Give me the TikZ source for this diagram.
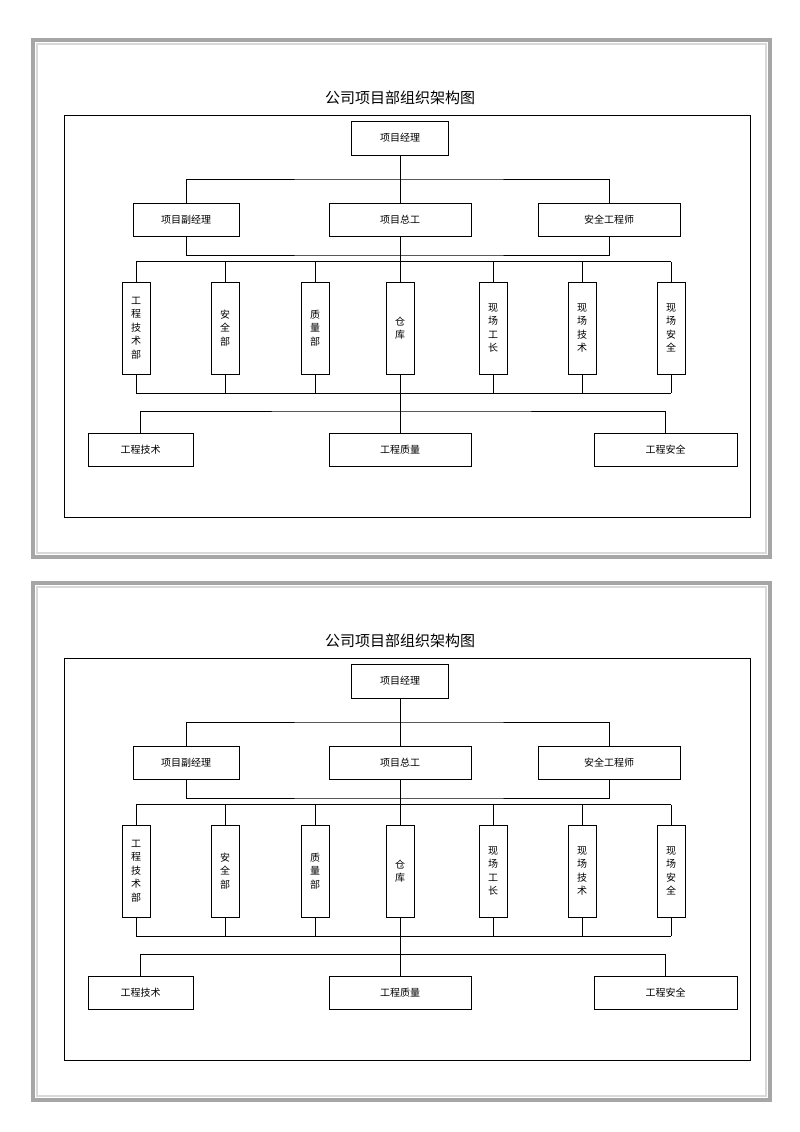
\documentclass[tikz,border=0pt]{standalone}
\usepackage{fontspec}
\setmainfont{Noto Sans CJK SC}
\usetikzlibrary{calc}
\begin{document}
\begin{tikzpicture}[x=1pt,y=-1pt,
  bx/.style={draw,line width=0.8pt,inner sep=0,font=\fontsize{10}{12}\selectfont},
  vb/.style={bx,minimum width=28pt,minimum height=92pt,align=center,font=\fontsize{10}{13.5}\selectfont},
  ln/.style={line width=0.6pt}]
\fill[white] (0,0) rectangle (800,1132);
\useasboundingbox (0,0) rectangle (800,1132);
\foreach \dy/\p in {0/a,543/b}{
\begin{scope}[yshift=-\dy pt]
\draw[gray!70,line width=4pt] (33,40) rectangle (770,557);
\draw[gray!30,line width=1.5pt] (37,44) rectangle (766,553);
\node[font=\fontsize{15}{17}\selectfont] (\p t) at (400,98) {公司项目部组织架构图};
\draw[line width=0.8pt] (64,115) rectangle (750,517);
\node[bx,minimum width=97pt,minimum height=34pt] (\p m) at (400,138) {项目经理};
\node[bx,minimum width=106pt,minimum height=33pt] (\p a1) at (186,219.5) {项目副经理};
\node[bx,minimum width=142pt,minimum height=33pt] (\p a2) at (400,219.5) {项目总工};
\node[bx,minimum width=142pt,minimum height=33pt] (\p a3) at (609,219.5) {安全工程师};
\foreach \i/\x/\t in {1/136/工\\程\\技\\术\\部,2/225/安\\全\\部,3/315/质\\量\\部,4/400/仓\\库,5/493/现\\场\\工\\长,6/582/现\\场\\技\\术,7/671/现\\场\\安\\全}
  \node[vb] (\p b\i) at (\x,328) {\t};
\node[bx,minimum width=105pt,minimum height=33pt] (\p c1) at (140.5,449.5) {工程技术};
\node[bx,minimum width=142pt,minimum height=33pt] (\p c2) at (400,449.5) {工程质量};
\node[bx,minimum width=143pt,minimum height=33pt] (\p c3) at (665.5,449.5) {工程安全};
\draw[ln] (\p m.south) -- (\p a2.north);
\draw[ln] (\p a1.north) |- (400,179) -| (\p a3.north);
\draw[ln] (\p a1.south) |- (400,255) -| (\p a3.south);
\draw[ln] (\p a2.south) -- (\p b4.north);
\foreach \i in {1,...,7}{
  \draw[ln] (\p b\i.north) -- ++(0,-20);
  \draw[ln] (\p b\i.south) -- ++(0,19);}
\draw[ln] ($(\p b1.north)+(0,-20)$) -- ($(\p b7.north)+(0,-20)$);
\draw[ln] ($(\p b1.south)+(0,19)$) -- ($(\p b7.south)+(0,19)$);
\draw[ln] (\p b4.south) -- (\p c2.north);
\draw[ln] (\p c1.north) |- (400,411) -| (\p c3.north);
\end{scope}}
\end{tikzpicture}
\end{document}
